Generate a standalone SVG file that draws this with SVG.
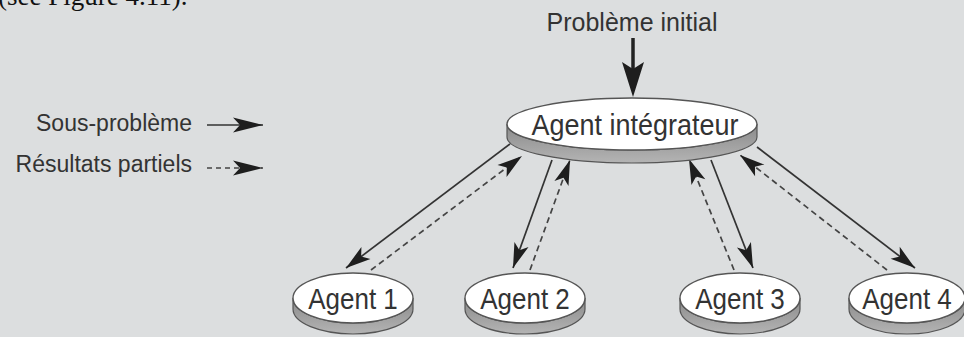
<svg xmlns="http://www.w3.org/2000/svg" width="964" height="337" viewBox="0 0 964 337">
  <defs>
    <linearGradient id="rim" x1="0" y1="0" x2="0" y2="1">
      <stop offset="0" stop-color="#8a8a8a"/>
      <stop offset="1" stop-color="#b4b4b4"/>
    </linearGradient>
    <marker id="head" markerUnits="userSpaceOnUse" viewBox="-1 -9 28 18" markerWidth="28" markerHeight="18" refX="25" refY="0" orient="auto">
      <path d="M0,-7.5 L25,0 L0,7.5 L6,0 Z" fill="#1e1e1e"/>
    </marker>
    <marker id="head-lg" markerUnits="userSpaceOnUse" viewBox="-1 -9 32 18" markerWidth="32" markerHeight="18" refX="30" refY="0" orient="auto">
      <path d="M0,-7.5 L30,0 L0,7.5 L7,0 Z" fill="#1e1e1e"/>
    </marker>
  </defs>
  <style>
    .lbl { font-family: "Liberation Sans", Arial, sans-serif; fill: #333; }
    .face { fill: #ffffff; stroke: #555; stroke-width: 1.4; }
    .rim { fill: url(#rim); stroke: #555; stroke-width: 1.2; }
    .solid { stroke: #333; stroke-width: 1.7; fill: none; marker-end: url(#head); }
    .dash { stroke: #444; stroke-width: 1.7; fill: none; stroke-dasharray: 6 4; marker-end: url(#head); }
  </style>

  <rect x="0" y="0" width="964" height="337" fill="#dcdedf"/>

  <!-- running text line above the figure -->
  <text x="-2" y="5" font-family="'Liberation Serif', 'Times New Roman', serif" font-size="27" fill="#111">(see Figure 4.11).</text>

  <!-- legend -->
  <g id="legend">
    <text class="lbl" x="192" y="131" font-size="23" text-anchor="end">Sous-problème</text>
    <line x1="207" y1="125" x2="263" y2="125" stroke="#333" stroke-width="1.7" marker-end="url(#head-lg)"/>
    <text class="lbl" x="192" y="172" font-size="23" text-anchor="end">Résultats partiels</text>
    <line x1="207" y1="168" x2="263" y2="168" stroke="#444" stroke-width="1.7" stroke-dasharray="5 4" marker-end="url(#head-lg)"/>
  </g>

  <!-- initial problem input -->
  <g id="input">
    <text class="lbl" transform="translate(632,31) scale(1,1.05)" font-size="25" text-anchor="middle">Problème initial</text>
    <line x1="633" y1="38" x2="633" y2="72" stroke="#222" stroke-width="3.5"/>
    <polygon points="633,97 622,62 633,69 644,62" fill="#1e1e1e"/>
  </g>

  <!-- connectors -->
  <g id="connectors">
    <line class="solid" x1="510" y1="144" x2="346" y2="268"/>
    <line class="dash" x1="371" y1="270" x2="522" y2="156"/>
    <line class="solid" x1="552" y1="160" x2="513" y2="268"/>
    <line class="dash" x1="530" y1="270" x2="570" y2="160"/>
    <line class="dash" x1="734" y1="270" x2="689" y2="159"/>
    <line class="solid" x1="711" y1="160" x2="753" y2="268"/>
    <line class="dash" x1="887" y1="270" x2="740" y2="155"/>
    <line class="solid" x1="757" y1="147" x2="915" y2="268"/>
  </g>

  <!-- integrator agent -->
  <g id="integrator">
    <path class="rim" d="M507,124 A125,26 0 0 0 757,124 L757,137 A125,26 0 0 1 507,137 Z"/>
    <ellipse class="face" cx="632" cy="124" rx="125" ry="26"/>
    <text class="lbl" transform="translate(635,135) scale(1,1.12)" font-size="27" text-anchor="middle">Agent intégrateur</text>
  </g>

  <!-- worker agents -->
  <g id="agent1">
    <path class="rim" d="M293,298 A60,25 0 0 0 413,298 L413,309 A60,25 0 0 1 293,309 Z"/>
    <ellipse class="face" cx="353" cy="298" rx="60" ry="25"/>
    <text class="lbl" transform="translate(353,309) scale(1,1.13)" font-size="26" text-anchor="middle">Agent 1</text>
  </g>
  <g id="agent2">
    <path class="rim" d="M465,298 A60,25 0 0 0 585,298 L585,309 A60,25 0 0 1 465,309 Z"/>
    <ellipse class="face" cx="525" cy="298" rx="60" ry="25"/>
    <text class="lbl" transform="translate(525,309) scale(1,1.13)" font-size="26" text-anchor="middle">Agent 2</text>
  </g>
  <g id="agent3">
    <path class="rim" d="M680,298 A60,25 0 0 0 800,298 L800,309 A60,25 0 0 1 680,309 Z"/>
    <ellipse class="face" cx="740" cy="298" rx="60" ry="25"/>
    <text class="lbl" transform="translate(740,309) scale(1,1.13)" font-size="26" text-anchor="middle">Agent 3</text>
  </g>
  <g id="agent4">
    <path class="rim" d="M849,298 A58,25 0 0 0 965,298 L965,309 A58,25 0 0 1 849,309 Z"/>
    <ellipse class="face" cx="907" cy="298" rx="58" ry="25"/>
    <text class="lbl" transform="translate(907,309) scale(1,1.13)" font-size="26" text-anchor="middle">Agent 4</text>
  </g>
</svg>
